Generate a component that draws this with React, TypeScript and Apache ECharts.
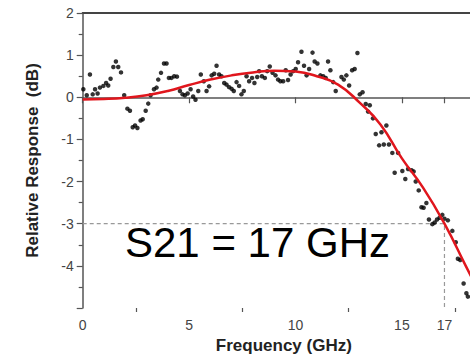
import React, { useEffect, useRef } from "react";
import * as echarts from "echarts";

const freqGHz = [
  0.03, 0.19, 0.34, 0.47, 0.58, 0.7, 0.81, 0.97, 1.1, 1.2, 1.31, 1.44, 1.56, 1.67, 1.8, 1.95,
  2.1, 2.22, 2.35, 2.46, 2.57, 2.72, 2.82, 2.96, 3.08, 3.19, 3.35, 3.47, 3.55, 3.68, 3.82, 3.94,
  4.05, 4.17, 4.3, 4.43, 4.57, 4.69, 4.8, 4.93, 5.07, 5.19, 5.3, 5.43, 5.55, 5.69, 5.82, 5.94,
  6.06, 6.18, 6.29, 6.41, 6.52, 6.65, 6.76, 6.88, 7.0, 7.1, 7.23, 7.35, 7.46, 7.57, 7.7, 7.82,
  7.96, 8.07, 8.2, 8.29, 8.42, 8.56, 8.67, 8.79, 8.92, 9.06, 9.18, 9.29, 9.42, 9.54, 9.65, 9.77,
  9.89, 10.01, 10.12, 10.28, 10.4, 10.52, 10.64, 10.8, 10.9, 11.03, 11.17, 11.3, 11.42, 11.53,
  11.64, 11.77, 11.89, 12.16, 12.27, 12.39, 12.52, 12.66, 12.78, 12.91, 13.02, 13.15, 13.3,
  13.41, 13.49, 13.64, 13.77, 13.93, 14.04, 14.15, 14.27, 14.39, 14.55, 14.66, 14.82, 15.02,
  15.16, 15.29, 15.45, 15.55, 15.65, 15.79, 15.92, 16.02, 16.15, 16.27, 16.43, 16.54, 16.65,
  16.77, 16.9, 17.0, 17.16, 17.37, 17.53, 17.63, 17.74, 17.9, 18.03, 18.1,
];
const responseDB = [
  0.19, 0.05, 0.54, 0.07, 0.19, 0.09, 0.23, 0.27, 0.34, 0.28, 0.44, 0.72, 0.85, 0.72, 0.59, 0.05,
  -0.27, -0.32, -0.71, -0.67, -0.73, -0.55, -0.52, -0.32, -0.15, 0.05, 0.19, 0.23, 0.42, 0.58, 0.8, 0.8,
  0.46, 0.46, 0.5, 0.49, 0.15, 0.07, 0.05, 0.09, 0.19, 0.02, -0.06, 0.15, 0.54, 0.38, 0.15, 0.26,
  0.52, 0.56, 0.75, 0.54, 0.5, 0.34, 0.3, 0.24, 0.2, 0.15, 0.36, 0.27, 0.07, 0.15, 0.5, 0.38,
  0.46, 0.34, 0.48, 0.62, 0.5, 0.46, 0.62, 0.73, 0.58, 0.52, 0.42, 0.38, 0.38, 0.64, 0.41, 0.54,
  0.62, 0.67, 0.83, 1.08, 0.75, 0.52, 0.67, 1.06, 0.85, 0.8, 0.52, 0.5, 0.46, 0.85,
  0.64, 0.36, 0.15, 0.48, 0.42, 0.52, 0.28, 0.64, 0.67, 1.05, 0.07, 0.12, -0.16,
  -0.34, -0.19, -0.5, -0.87, -1.14, -0.83, -1.12, -0.67, -1.12, -1.32, -1.79, -1.32, -1.75,
  -1.94, -1.7, -1.73, -1.76, -2.0, -2.21, -2.61, -2.62, -2.51, -2.9, -3.01, -2.97, -2.9,
  -2.86, -2.79, -2.88, -2.92, -3.17, -3.44, -3.83, -3.86, -4.42, -4.65, -4.73,
];

const fitGHz = [0, 1, 2, 3, 4, 5, 6, 7, 8, 9, 10, 11, 12, 13, 14, 15, 16, 17, 18, 18.3];
const fitDB = [-0.05, -0.04, -0.01, 0.05, 0.15, 0.29, 0.42, 0.52, 0.59, 0.63, 0.61, 0.5, 0.3, -0.12, -0.65, -1.45, -2.15, -3.0, -4.0, -4.3];

const cutoffGHz = 17;
const cutoffDB = -3;
const xTickLabels = [0, 5, 10, 15, 17];
const xMinorTicks = [2.5, 7.5, 12.5, 17.5];
const annotation = "S21 = 17 GHz";

const FONT = "'Liberation Sans', Arial, Helvetica, sans-serif";
const AXIS_COLOR = "#555";
const LABEL_COLOR = "#444";

export default function App() {
  const ref = useRef<HTMLDivElement>(null);
  useEffect(() => {
    if (!ref.current) return;
    const chart = echarts.init(ref.current, undefined, { renderer: "svg" });
    const scatterData = freqGHz.map((f, i) => [f, responseDB[i]]);
    const fitData = fitGHz.map((f, i) => [f, fitDB[i]]);
    chart.setOption({
      animation: false,
      textStyle: { fontFamily: FONT },
      grid: { left: 82.7, right: 0, top: 13, bottom: 47 },
      xAxis: [
        {
          type: "value",
          min: 0,
          max: 18.2,
          position: "bottom",
          splitLine: { show: false },
          axisLine: { show: true, lineStyle: { color: AXIS_COLOR, width: 1.5 } },
          axisTick: { show: true, customValues: xTickLabels, length: 6, lineStyle: { color: AXIS_COLOR, width: 1.2 } },
          axisLabel: { customValues: xTickLabels, color: LABEL_COLOR, fontSize: 14, margin: 10, fontFamily: FONT },
          name: "Frequency (GHz)",
          nameLocation: "middle",
          nameGap: 29,
          nameTextStyle: { fontSize: 17, fontWeight: "bold", color: "#222", fontFamily: FONT, padding: [0, 0, 0, 15] },
        },
        {
          type: "value",
          min: 0,
          max: 18.2,
          position: "bottom",
          splitLine: { show: false },
          axisLine: { show: false },
          axisTick: { show: true, customValues: xMinorTicks, length: 4, lineStyle: { color: AXIS_COLOR, width: 1.2 } },
          axisLabel: { show: false },
        },
        {
          type: "value",
          min: 0,
          max: 18.2,
          position: "top",
          splitLine: { show: false },
          axisLine: { show: true, lineStyle: { color: "#444", width: 2 } },
          axisTick: { show: false },
          axisLabel: { show: false },
        },
      ],
      yAxis: {
        type: "value",
        min: -5,
        max: 2,
        interval: 1,
        splitLine: { show: false },
        axisLine: { show: true, lineStyle: { color: AXIS_COLOR, width: 1.5 } },
        axisTick: { show: true, length: 6, lineStyle: { color: AXIS_COLOR, width: 1.2 } },
        minorTick: { show: true, splitNumber: 2, length: 4, lineStyle: { color: AXIS_COLOR, width: 1.2 } },
        axisLabel: { showMinLabel: false, color: LABEL_COLOR, fontSize: 14, margin: 9, fontFamily: FONT },
        name: "Relative Response  (dB)",
        nameLocation: "middle",
        nameGap: 42,
        nameTextStyle: { fontSize: 17, fontWeight: "bold", color: "#222", fontFamily: FONT },
      },
      series: [
        {
          type: "line",
          data: [[0, cutoffDB], [cutoffGHz, cutoffDB], [cutoffGHz, -5]],
          symbol: "none",
          lineStyle: { color: "#999", width: 1.2, type: [4, 3] },
          z: 1,
          silent: true,
        },
        {
          type: "scatter",
          data: scatterData,
          symbol: "circle",
          symbolSize: 4.5,
          itemStyle: { color: "#000" },
          z: 2,
        },
        {
          type: "line",
          data: fitData,
          smooth: true,
          symbol: "none",
          clip: true,
          lineStyle: { color: "#e0161d", width: 2.5 },
          z: 3,
        },
      ],
      graphic: [
        {
          type: "text",
          x: 125,
          y: 242.5,
          style: {
            text: annotation,
            fontSize: 42,
            fontFamily: FONT,
            fill: "#000",
            verticalAlign: "middle",
            align: "left",
          },
          z: 10,
        },
      ],
    });
    return () => chart.dispose();
  }, []);
  return (
    <div
      ref={ref}
      style={{ position: "absolute", left: 0, top: 0, width: 470, height: 359, background: "#fff" }}
    />
  );
}
